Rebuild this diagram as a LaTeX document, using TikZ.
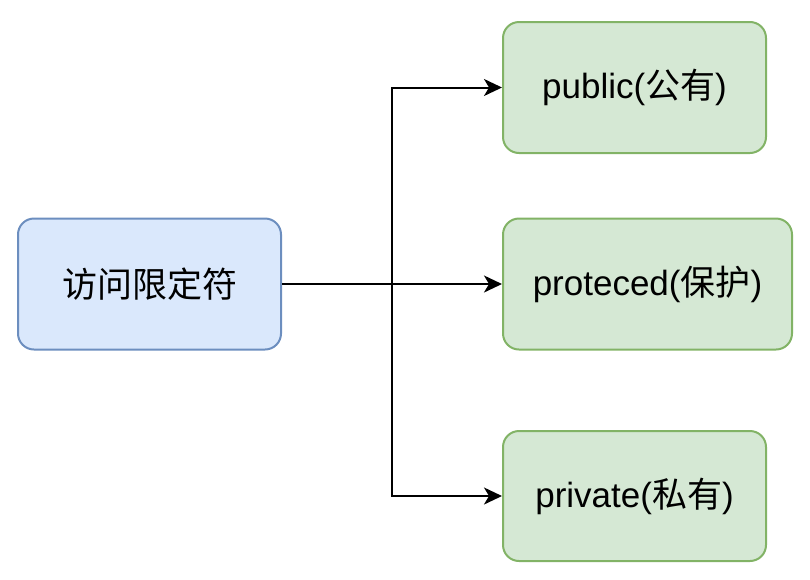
\documentclass[tikz,border=0pt]{standalone}
\usepackage{fontspec}
\setmainfont{Liberation Sans}
\newfontfamily\cjk{Noto Sans CJK SC}
\usetikzlibrary{arrows.meta,positioning}

\definecolor{blueFill}{HTML}{DAE8FC}
\definecolor{blueLine}{HTML}{6C8EBF}
\definecolor{greenFill}{HTML}{D5E8D4}
\definecolor{greenLine}{HTML}{82B366}

\tikzset{
    box/.style={rectangle, rounded corners=16pt, line width=2pt,
        minimum width=263pt, minimum height=131pt, inner sep=0pt,
        font=\fontsize{35}{42}\selectfont},
    rootbox/.style={box, draw=blueLine, fill=blueFill},
    leafbox/.style={box, draw=greenLine, fill=greenFill},
    link/.style={line width=2pt, -{Stealth[length=18pt,width=17pt,inset=5pt]}}
}

\begin{document}
\begin{tikzpicture}[x=1pt, y=-1pt]
    \useasboundingbox (0,0) rectangle (810,579);

    % Nodes
    \node[rootbox] (access) at (149.5,284) {\cjk 访问限定符};
    \node[leafbox] (public) at (634.5,87.5) {public({\cjk 公有})};
    \node[leafbox, minimum width=289pt] (protected) at (647.5,284) {proteced({\cjk 保护})};
    \node[leafbox, minimum height=130pt] (private) at (634.5,496) {private({\cjk 私有})};

    % Branch point
    \coordinate (split) at (392,284);

    % Edges
    \draw[link] (access) -- (protected);
    \draw[link] (split) |- (public);
    \draw[link] (split) |- (private);
\end{tikzpicture}
\end{document}
